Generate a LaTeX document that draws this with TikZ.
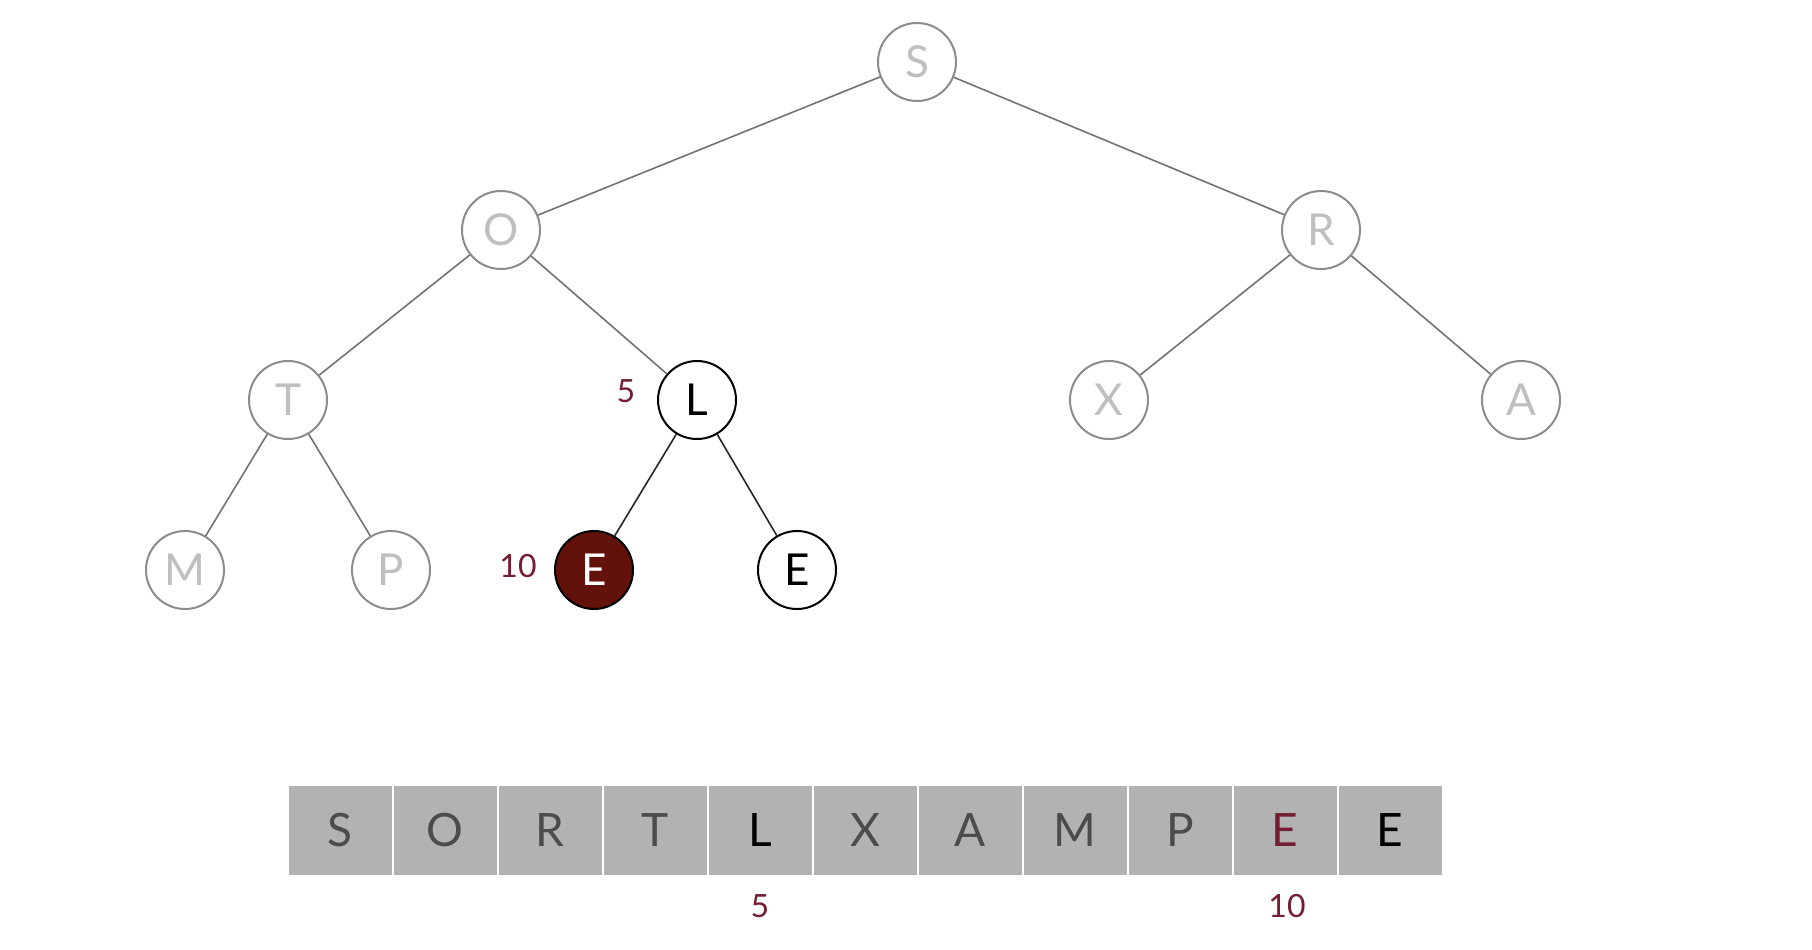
\documentclass[tikz,border=0pt]{standalone}
\usepackage{fontspec}
\setmainfont{Lato}
\begin{document}
\begin{tikzpicture}[x=1pt,y=-1pt,
  faded/.style={circle,draw=black!45,line width=2pt,fill=white,minimum size=78pt,inner sep=0pt,text=black!25,font=\fontsize{44}{44}\selectfont},
  active/.style={circle,draw=black,line width=2pt,fill=white,minimum size=78pt,inner sep=0pt,text=black,font=\fontsize{44}{44}\selectfont},
  hot/.style={circle,draw=black,line width=2pt,fill=darkred,minimum size=78pt,inner sep=0pt,text=white,font=\fontsize{44}{44}\selectfont},
  edge/.style={draw=black!55,line width=1.6pt},
  hedge/.style={draw=black!85,line width=1.6pt},
  cell/.style={rectangle,fill=black!30,draw=white,line width=2pt,minimum width=105pt,minimum height=91pt,inner sep=0pt,font=\fontsize{46}{46}\selectfont},
  idx/.style={text=labred,font=\fontsize{32}{32}\selectfont}]
\definecolor{darkred}{RGB}{98,18,10}
\definecolor{labred}{RGB}{115,30,50}
\useasboundingbox (0,0) rectangle (1812,950);
\fill[white] (0,0) rectangle (1812,950);
% tree nodes
\node[faded] (S) at (917,62) {S};
\node[faded] (O) at (501,230) {O};
\node[faded] (R) at (1321,230) {R};
\node[faded] (T) at (288,400) {T};
\node[active] (L) at (697,400) {L};
\node[faded] (X) at (1109,400) {X};
\node[faded] (A) at (1521,400) {A};
\node[faded] (M) at (185,570) {M};
\node[faded] (P) at (391,570) {P};
\node[hot] (E1) at (594,570) {E};
\node[active] (E2) at (797,570) {E};
% edges
\begin{scope}[on background layer/.style={}]
\end{scope}
\draw[edge] (S) -- (O);
\draw[edge] (S) -- (R);
\draw[edge] (O) -- (T);
\draw[edge] (O) -- (L);
\draw[edge] (R) -- (X);
\draw[edge] (R) -- (A);
\draw[edge] (T) -- (M);
\draw[edge] (T) -- (P);
\draw[hedge] (L) -- (E1);
\draw[hedge] (L) -- (E2);
% labels on tree
\node[idx] (l5) at (626,391) {5};
\node[idx] (l10) at (518,566) {10};
% array
\node[cell,text=black!70] (c0) at (340,830) {S};
\node[cell,text=black!70] (c1) at (445,830) {O};
\node[cell,text=black!70] (c2) at (550,830) {R};
\node[cell,text=black!70] (c3) at (655,830) {T};
\node[cell,text=black] (c4) at (760,830) {L};
\node[cell,text=black!70] (c5) at (865,830) {X};
\node[cell,text=black!70] (c6) at (970,830) {A};
\node[cell,text=black!70] (c7) at (1075,830) {M};
\node[cell,text=black!70] (c8) at (1180,830) {P};
\node[cell,text=labred] (c9) at (1285,830) {E};
\node[cell,text=black] (c10) at (1390,830) {E};
\node[idx] (a5) at (760,906) {5};
\node[idx] (a10) at (1287,906) {10};
\end{tikzpicture}
\end{document}
